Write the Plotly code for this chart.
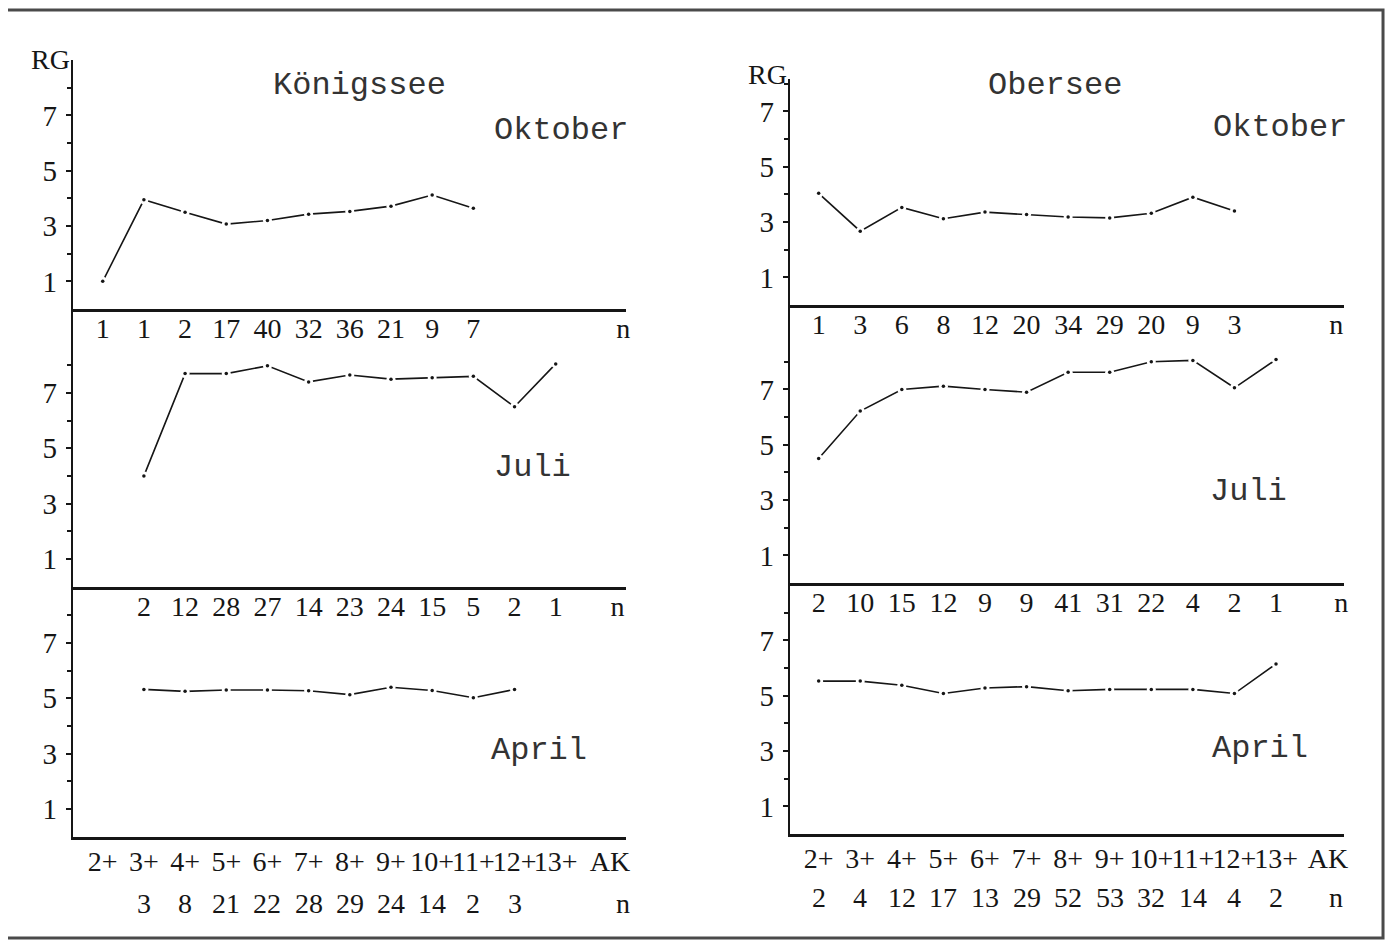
import plotly.graph_objects as go

W, H = 1395, 948
OFF = 8  # default page body margin
FW, FH = W - OFF, H - OFF

# ---------------- data ----------------
categories = ["2+", "3+", "4+", "5+", "6+", "7+", "8+", "9+", "10+", "11+", "12+", "13+"]
ak_label = "AK"

# Königssee
k_okt_cat = categories[0:10]
k_okt_rg = [1.0, 3.95, 3.5, 3.07, 3.2, 3.43, 3.53, 3.72, 4.12, 3.64]
k_okt_n = ["1", "1", "2", "17", "40", "32", "36", "21", "9", "7"]

k_jul_cat = categories[1:12]
k_jul_rg = [4.0, 7.7, 7.7, 7.98, 7.4, 7.65, 7.5, 7.55, 7.6, 6.5, 8.05]
k_jul_n = ["2", "12", "28", "27", "14", "23", "24", "15", "5", "2", "1"]

k_apr_cat = categories[1:11]
k_apr_rg = [5.32, 5.25, 5.3, 5.3, 5.27, 5.13, 5.4, 5.28, 5.02, 5.32]
k_apr_n = ["3", "8", "21", "22", "28", "29", "24", "14", "2", "3"]

# Obersee
o_okt_cat = categories[0:11]
o_okt_rg = [4.04, 2.67, 3.53, 3.12, 3.36, 3.27, 3.18, 3.15, 3.32, 3.9, 3.4]
o_okt_n = ["1", "3", "6", "8", "12", "20", "34", "29", "20", "9", "3"]

o_jul_cat = categories[0:12]
o_jul_rg = [4.5, 6.22, 7.0, 7.12, 7.0, 6.9, 7.62, 7.62, 8.0, 8.05, 7.06, 8.08]
o_jul_n = ["2", "10", "15", "12", "9", "9", "41", "31", "22", "4", "2", "1"]

o_apr_cat = categories[0:12]
o_apr_rg = [5.53, 5.53, 5.38, 5.08, 5.28, 5.33, 5.18, 5.23, 5.23, 5.23, 5.08, 6.15]
o_apr_n = ["2", "4", "12", "17", "13", "29", "52", "53", "32", "14", "4", "2"]

y_ticks = [1, 3, 5, 7]
y_minor = [2, 4, 6, 8]

# ---------------- styling ----------------
SERIF = "Liberation Serif"
MONO = "Liberation Mono"
INK = "#161616"
UNIT = 27.65  # px per RG unit


def px_x(p):
    return (p - OFF) / FW


def px_y(p):
    return 1 - (p - OFF) / FH


def idx(cats):
    return [categories.index(c) for c in cats]


panels = {
    "left": dict(x0=73, x1=628, c0=103, dc=41.3,
                 secs=[(60, 309), (309, 586.5), (586.5, 836.5)],
                 ak=12.32, n_pos=[12.64, 12.5, 12.64]),
    "right": dict(x0=792, x1=1348, c0=821, dc=41.7,
                  secs=[(79, 305), (305, 583), (583, 834)],
                  ak=12.25, n_pos=[12.45, 12.57, 12.45]),
}

sections = [
    ("left", 0, k_okt_cat, k_okt_rg, k_okt_n),
    ("left", 1, k_jul_cat, k_jul_rg, k_jul_n),
    ("left", 2, k_apr_cat, k_apr_rg, k_apr_n),
    ("right", 0, o_okt_cat, o_okt_rg, o_okt_n),
    ("right", 1, o_jul_cat, o_jul_rg, o_jul_n),
    ("right", 2, o_apr_cat, o_apr_rg, o_apr_n),
]

fig = go.Figure()
layout = dict(
    width=FW, height=FH,
    margin=dict(l=0, r=0, t=0, b=0),
    paper_bgcolor="white", plot_bgcolor="white",
    showlegend=False,
    annotations=[], shapes=[],
)

for i, (side, s, cats, rg, nlab) in enumerate(sections, start=1):
    P = panels[side]
    top, zero = P["secs"][s]
    xr = [(P["x0"] - P["c0"]) / P["dc"], (P["x1"] - P["c0"]) / P["dc"]]
    yr = [0, (zero - top) / UNIT]
    xs = idx(cats)
    xname = "x" if i == 1 else f"x{i}"
    yname = "y" if i == 1 else f"y{i}"

    fig.add_trace(go.Scatter(
        x=xs, y=rg, mode="lines+markers",
        line=dict(color=INK, width=1.6),
        marker=dict(size=9, color="white"),
        xaxis=xname, yaxis=yname, cliponaxis=False, hoverinfo="skip"))
    fig.add_trace(go.Scatter(
        x=xs, y=rg, mode="markers",
        marker=dict(size=3.5, color=INK),
        xaxis=xname, yaxis=yname, cliponaxis=False))

    bottom = (s == 2)
    if bottom:
        tv = list(range(len(categories))) + [P["ak"]]
        tt = categories + [ak_label]
    else:
        tv = xs + [P["n_pos"][s]]
        tt = nlab + ["n"]

    layout["xaxis" if i == 1 else f"xaxis{i}"] = dict(
        domain=[px_x(P["x0"]), px_x(P["x1"])], range=xr,
        anchor=yname, showline=True, linewidth=2.5, linecolor=INK,
        ticks="", tickvals=tv, ticktext=tt, tickangle=0,
        tickfont=dict(family=SERIF, size=28, color=INK),
        ticklabelstandoff=-2 if bottom else -7,
        showgrid=False, zeroline=False, fixedrange=True,
    )
    layout["yaxis" if i == 1 else f"yaxis{i}"] = dict(
        domain=[px_y(zero), px_y(top)], range=yr,
        anchor=xname, showline=True, linewidth=2, linecolor=INK,
        ticks="outside", ticklen=5, tickwidth=1.5, tickcolor=INK,
        tickvals=y_ticks, ticktext=[str(v) for v in y_ticks],
        minor=dict(tickvals=y_minor, ticks="outside", ticklen=4,
                   tickwidth=1.5, tickcolor=INK),
        tickfont=dict(family=SERIF, size=29, color=INK),
        ticklabelstandoff=3,
        showgrid=False, zeroline=False, fixedrange=True,
    )

    if bottom:
        ny = 903 if side == "left" else 897
        for xv, t in zip(xs, nlab):
            layout["annotations"].append(dict(
                x=xv, y=px_y(ny), xref=xname, yref="paper", text=t,
                showarrow=False, font=dict(family=SERIF, size=28, color=INK),
                xanchor="center", yanchor="middle"))
        layout["annotations"].append(dict(
            x=P["n_pos"][s], y=px_y(ny), xref=xname, yref="paper", text="n",
            showarrow=False, font=dict(family=SERIF, size=28, color=INK),
            xanchor="center", yanchor="middle"))

texts = [
    ("Königssee", 361, 85), ("Oktober", 563, 130), ("Juli", 534, 467), ("April", 541, 750),
    ("Obersee", 1058, 85), ("Oktober", 1284, 128), ("Juli", 1252, 492), ("April", 1264, 748),
]
for t, x, y in texts:
    layout["annotations"].append(dict(
        x=px_x(x), y=px_y(y), xref="paper", yref="paper", text=t, showarrow=False,
        font=dict(family=MONO, size=32, color="#333333"),
        xanchor="center", yanchor="middle"))

for x, y in [(51, 60), (770, 75)]:
    layout["annotations"].append(dict(
        x=px_x(x), y=px_y(y), xref="paper", yref="paper", text="RG", showarrow=False,
        font=dict(family=SERIF, size=28, color=INK), xanchor="center", yanchor="middle"))

layout["shapes"].append(dict(
    type="rect", xref="paper", yref="paper",
    x0=px_x(5), x1=px_x(1387), y0=px_y(938), y1=px_y(10),
    line=dict(color="#4a4a4a", width=3)))

fig.update_layout(**layout)
fig.write_html("out.html")
